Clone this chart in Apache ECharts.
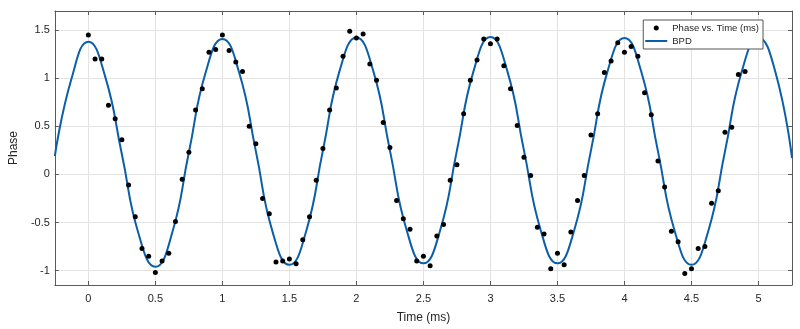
<!DOCTYPE html>
<html>
<head>
<meta charset="utf-8">
<script src="https://cdn.jsdelivr.net/npm/echarts@6/dist/echarts.min.js"></script>
<style>
  html, body { margin: 0; padding: 0; background: #fff; }
  #main { width: 800px; height: 329px; }
</style>
</head>
<body>
<div id="main"></div>
<script>
// measured samples (ms)
const timeMs = [0, 0.05, 0.1, 0.15, 0.2, 0.25, 0.3, 0.35, 0.4, 0.45,
  0.5, 0.55, 0.6, 0.65, 0.7, 0.75, 0.8, 0.85, 0.9, 0.95,
  1, 1.05, 1.1, 1.15, 1.2, 1.25, 1.3, 1.35, 1.4, 1.45,
  1.5, 1.55, 1.6, 1.65, 1.7, 1.75, 1.8, 1.85, 1.9, 1.95,
  2, 2.05, 2.1, 2.15, 2.2, 2.25, 2.3, 2.35, 2.4, 2.45,
  2.5, 2.55, 2.6, 2.65, 2.7, 2.75, 2.8, 2.85, 2.9, 2.95,
  3, 3.05, 3.1, 3.15, 3.2, 3.25, 3.3, 3.35, 3.4, 3.45,
  3.5, 3.55, 3.6, 3.65, 3.7, 3.75, 3.8, 3.85, 3.9, 3.95,
  4, 4.05, 4.1, 4.15, 4.2, 4.25, 4.3, 4.35, 4.4, 4.45,
  4.5, 4.55, 4.6, 4.65, 4.7, 4.75, 4.8, 4.85, 4.9]
const phase = [1.45, 1.20, 1.20, 0.72, 0.58, 0.36, -0.11, -0.44, -0.77, -0.85,
  -1.02, -0.90, -0.82, -0.49, -0.05, 0.23, 0.67, 0.89, 1.27, 1.30,
  1.45, 1.29, 1.17, 1.07, 0.50, 0.32, -0.25, -0.41, -0.91, -0.90,
  -0.88, -0.93, -0.68, -0.44, -0.06, 0.27, 0.67, 0.90, 1.23, 1.49,
  1.42, 1.46, 1.15, 0.98, 0.54, 0.28, -0.27, -0.46, -0.57, -0.90,
  -0.85, -0.95, -0.64, -0.52, -0.06, 0.10, 0.63, 0.98, 1.19, 1.41,
  1.36, 1.41, 1.13, 0.89, 0.51, 0.18, -0.01, -0.55, -0.62, -0.98,
  -0.82, -0.94, -0.60, -0.27, -0.01, 0.41, 0.63, 1.06, 1.18, 1.37,
  1.27, 1.33, 1.23, 0.85, 0.62, 0.14, -0.13, -0.59, -0.70, -1.03,
  -0.98, -0.77, -0.75, -0.30, -0.17, 0.44, 0.49, 1.04, 1.07]

// fitted curve (BPD)
const fitTime = [-0.25, -0.125, 0, 0.125, 0.25, 0.375, 0.5, 0.625, 0.75, 0.875,
  1, 1.125, 1.25, 1.375, 1.5, 1.625, 1.75, 1.875, 2, 2.125,
  2.25, 2.375, 2.5, 2.625, 2.75, 2.875, 3, 3.125, 3.25, 3.375,
  3.5, 3.625, 3.75, 3.875, 4, 4.125, 4.25, 4.375, 4.5, 4.625,
  4.75, 4.875, 5, 5.125, 5.25]
const fitPhase = [0.19, 1.00, 1.38, 1.02, 0.21, -0.62, -0.96, -0.61, 0.23, 1.06,
  1.41, 1.06, 0.24, -0.60, -0.94, -0.59, 0.25, 1.08, 1.425, 1.08,
  0.25, -0.58, -0.925, -0.58, 0.25, 1.08, 1.43, 1.08, 0.25, -0.58,
  -0.925, -0.58, 0.25, 1.08, 1.42, 1.07, 0.24, -0.59, -0.94, -0.59,
  0.24, 1.07, 1.42, 1.07, 0.17]

const font = "'Liberation Sans', Arial, sans-serif"
const txt = '#262626'
const frame = '#5a5a5a'
const blue = '#0b5fa8'

const chart = echarts.init(document.getElementById('main'))
chart.setOption({
  animation: false,
  textStyle: {fontFamily: font},
  grid: {left: 45, right: 8, top: 11, bottom: 41},
  legend: {
    right: 37, top: 20,
    orient: 'vertical',
    itemWidth: 22, itemHeight: 5, itemGap: 3,
    padding: [3, 4, 3, 2],
    borderColor: '#555', borderWidth: 1, borderRadius: 0,
    backgroundColor: '#fff',
    textStyle: {fontSize: 9.5, color: txt, fontFamily: font},
    data: [
      {name: 'Phase vs. Time (ms)', icon: 'circle'},
      {name: 'BPD', icon: 'path://M0,0H22V2H0Z', itemStyle: {color: blue}}
    ]
  },
  xAxis: [{
    type: 'value', min: -0.25, max: 5.25, splitNumber: 10,
    name: 'Time (ms)', nameLocation: 'middle', nameGap: 27,
    nameTextStyle: {fontSize: 12, color: txt},
    axisLine: {onZero: false, lineStyle: {color: frame}},
    axisTick: {inside: true, length: 4, lineStyle: {color: frame}},
    axisLabel: {fontSize: 11, color: txt, margin: 8, showMinLabel: false, showMaxLabel: false},
    splitLine: {show: true, lineStyle: {color: '#e3e3e3'}}
  }, {
    type: 'value', position: 'top', min: -0.25, max: 5.25, splitNumber: 10,
    axisLine: {onZero: false, lineStyle: {color: frame}},
    axisTick: {inside: true, length: 4, lineStyle: {color: frame}},
    axisLabel: {show: false},
    splitLine: {show: false}
  }],
  yAxis: [{
    type: 'value', min: -1.15, max: 1.7, splitNumber: 5,
    name: 'Phase', nameLocation: 'middle', nameGap: 28,
    nameTextStyle: {fontSize: 12, color: txt},
    axisLine: {show: true, onZero: false, lineStyle: {color: frame}},
    axisTick: {show: true, inside: true, length: 4, lineStyle: {color: frame}},
    axisLabel: {fontSize: 11, color: txt, margin: 5, showMinLabel: false, showMaxLabel: false},
    splitLine: {show: true, lineStyle: {color: '#e3e3e3'}}
  }, {
    type: 'value', position: 'right', min: -1.15, max: 1.7, splitNumber: 5,
    axisLine: {show: true, onZero: false, lineStyle: {color: frame}},
    axisTick: {show: true, inside: true, length: 4, lineStyle: {color: frame}},
    axisLabel: {show: false},
    splitLine: {show: false}
  }],
  series: [
    {
      name: 'Phase vs. Time (ms)',
      type: 'scatter',
      symbolSize: 5,
      itemStyle: {color: '#000', opacity: 1},
      data: timeMs.map((t, i) => [t, phase[i]]),
      z: 3
    },
    {
      name: 'BPD',
      type: 'line',
      smooth: 0.5,
      showSymbol: false,
      lineStyle: {color: blue, width: 2},
      itemStyle: {color: blue},
      data: fitTime.map((t, i) => [t, fitPhase[i]]),
      z: 2
    }
  ]
})
</script>
</body>
</html>
